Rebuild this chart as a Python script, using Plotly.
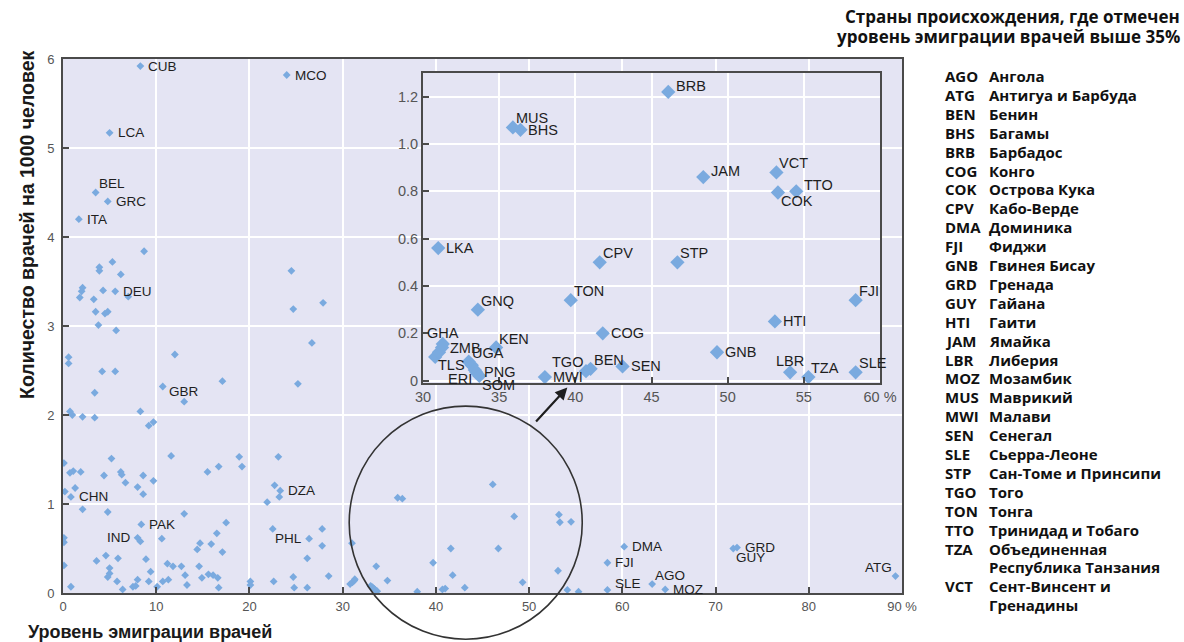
import plotly.graph_objects as go

W, H = 1184, 642

# ---------------- data ----------------
# unlabelled countries of the main chart (emigration %, doctors per 1000)
other_x = [8.7, 3.9, 3.9, 5.3, 6.2, 2.1, 2.0, 1.8, 4.3, 7.0, 3.3, 3.5, 4.5, 4.8, 3.8, 5.7,
           24.5, 24.7, 27.9, 26.7, 25.2, 0.6, 0.6, 12.0, 4.2, 5.6, 10.7, 17.1, 3.4, 8.3,
           0.75, 1.0, 2.1, 3.4, 9.2, 9.7, 0.1, 5.2, 11.6, 0.75, 1.1, 1.9, 4.4, 6.2, 6.3,
           6.7, 8.6, 9.7, 8.0, 8.6, 15.5, 16.7, 18.9, 19.2, 23.1, 22.7, 23.2, 21.9, 0.2,
           1.3, 2.1, 4.8, 13.0, 17.5, 16.5, 22.5, 27.8, 27.8, 26.2, 0.1, 0.1, 8.3, 10.6,
           15.9, 14.7, 14.4, 17.1, 0.1, 3.6, 4.6, 5.9, 8.9, 5.0, 5.0, 4.8, 9.4, 11.2, 11.8,
           12.7, 14.6, 13.1, 14.9, 15.6, 16.1, 16.6, 16.7, 5.8, 8.0, 9.2, 10.7, 11.3, 13.3,
           0.85, 6.4, 7.5, 7.8, 10.1, 20.1, 20.1, 22.6, 24.7, 24.8, 26.2, 28.5]
other_y = [3.84, 3.66, 3.62, 3.72, 3.58, 3.43, 3.39, 3.32, 3.40, 3.33, 3.30, 3.16, 3.14, 3.16, 3.01, 2.95,
           3.62, 3.19, 3.26, 2.81, 2.35, 2.65, 2.58, 2.68, 2.49, 2.49, 2.32, 2.38, 2.25, 2.04,
           2.04, 2.00, 1.98, 1.97, 1.88, 1.92, 1.46, 1.51, 1.54, 1.35, 1.37, 1.36, 1.32, 1.36, 1.33,
           1.24, 1.32, 1.26, 1.19, 1.11, 1.36, 1.42, 1.53, 1.42, 1.53, 1.21, 1.08, 1.02, 1.14,
           1.18, 0.94, 0.91, 0.89, 0.79, 0.67, 0.72, 0.72, 0.53, 0.39, 0.62, 0.57, 0.58, 0.61,
           0.55, 0.56, 0.49, 0.46, 0.31, 0.36, 0.42, 0.39, 0.38, 0.28, 0.22, 0.18, 0.24, 0.33, 0.30,
           0.30, 0.30, 0.20, 0.17, 0.21, 0.20, 0.17, 0.06, 0.13, 0.15, 0.13, 0.13, 0.15, 0.09,
           0.07, 0.04, 0.07, 0.08, 0.07, 0.13, 0.09, 0.13, 0.18, 0.06, 0.06, 0.19]

# labelled countries of the main chart
main_codes = ["CUB", "MCO", "LCA", "BEL", "GRC", "ITA", "DEU", "GBR", "CHN", "IND", "PAK",
              "DZA", "PHL", "DMA", "AGO", "MOZ", "GRD", "GUY", "ATG"]
main_x = [8.3, 24.0, 5.0, 3.5, 4.8, 1.7, 5.6, 13.0, 0.85, 8.0, 8.4,
          23.3, 26.4, 60.2, 63.2, 64.6, 72.3, 71.9, 89.3]
main_y = [5.92, 5.82, 5.17, 4.50, 4.40, 4.20, 3.39, 2.15, 1.08, 0.62, 0.77,
          1.15, 0.61, 0.52, 0.10, 0.04, 0.51, 0.50, 0.19]

# countries shown in the zoomed inset (also plotted in the main chart)
ins_codes = ["BRB", "MUS", "BHS", "JAM", "VCT", "TTO", "COK", "LKA", "CPV", "STP", "TON",
             "GNQ", "FJI", "HTI", "COG", "", "", "ZMB", "GHA", "KEN", "UGA", "TLS", "ERI",
             "PNG", "SOM", "MWI", "TGO", "BEN", "SEN", "GNB", "LBR", "TZA", "SLE"]
ins_x = [46.1, 35.9, 36.4, 48.4, 53.2, 54.5, 53.3, 31.0, 41.6, 46.7, 39.7,
         33.6, 58.4, 53.1, 41.8, 30.8, 31.05, 31.25, 31.3, 34.8, 33.0, 33.2, 33.4,
         33.5, 33.7, 38.0, 40.7, 41.0, 43.1, 49.3, 54.1, 55.3, 58.4]
ins_y = [1.22, 1.07, 1.06, 0.86, 0.88, 0.80, 0.795, 0.56, 0.50, 0.50, 0.34,
         0.30, 0.34, 0.25, 0.20, 0.10, 0.12, 0.14, 0.155, 0.14, 0.08, 0.065, 0.045,
         0.035, 0.02, 0.015, 0.04, 0.05, 0.06, 0.12, 0.035, 0.015, 0.035]

main_x_ticks = [0, 10, 20, 30, 40, 50, 60, 70, 80, 90]
main_x_ticktext = ["0", "10", "20", "30", "40", "50", "60", "70", "80", "90 %"]
main_y_ticks = [0, 1, 2, 3, 4, 5, 6]
ins_x_ticks = [30, 35, 40, 45, 50, 55, 60]
ins_x_ticktext = ["30", "35", "40", "45", "50", "55", "60 %"]
ins_y_ticks = [0, 0.2, 0.4, 0.6, 0.8, 1.0, 1.2]
ins_y_ticktext = ["0", "0.2", "0.4", "0.6", "0.8", "1.0", "1.2"]

legend_codes = ["AGO", "ATG", "BEN", "BHS", "BRB", "COG", "COK", "CPV", "DMA", "FJI", "GNB",
                "GRD", "GUY", "HTI", "JAM", "LBR", "MOZ", "MUS", "MWI", "SEN", "SLE", "STP",
                "TGO", "TON", "TTO", "TZA", "", "VCT", ""]
legend_names = ["Ангола", "Антигуа и Барбуда", "Бенин", "Багамы", "Барбадос", "Конго",
                "Острова Кука", "Кабо-Верде", "Доминика", "Фиджи", "Гвинея Бисау", "Гренада",
                "Гайана", "Гаити", "Ямайка", "Либерия", "Мозамбик", "Маврикий", "Малави",
                "Сенегал", "Сьерра-Леоне", "Сан-Томе и Принсипи", "Того", "Тонга",
                "Тринидад и Тобаго", "Объединенная", "Республика Танзания", "Сент-Винсент и",
                "Гренадины"]

# ---------------- styles ----------------
MAIN_POS = {"CUB": "r", "MCO": "r", "LCA": "r", "BEL": "tr", "GRC": "r", "ITA": "r", "DEU": "r",
            "GBR": "t", "CHN": "r", "IND": "l", "PAK": "r", "DZA": "r", "PHL": "l", "DMA": "r",
            "AGO": "tr", "MOZ": "r", "GRD": "r", "GUY": "br", "ATG": "tl", "FJI": "r", "SLE": "ru"}
INS_POS = {"BRB": "ru", "MUS": "tr", "BHS": "r", "JAM": "ru", "VCT": "tr", "TTO": "ru", "COK": "br",
           "LKA": "r", "CPV": "tr", "STP": "tr", "TON": "tr", "GNQ": "tr", "FJI": "tr", "HTI": "r",
           "COG": "r", "ZMB": "r", "GHA": "t", "KEN": "tr", "UGA": "tr", "TLS": "l", "ERI": "bl",
           "PNG": "r", "SOM": "br", "MWI": "r", "TGO": "tl", "BEN": "tr", "SEN": "r", "GNB": "r",
           "LBR": "t", "TZA": "tr", "SLE": "tr"}
POS = {"r": ("left", "middle", 7, 0), "ru": ("left", "middle", 7, 6),
       "l": ("right", "middle", -6, 0), "tr": ("left", "bottom", 2, 0),
       "tl": ("right", "bottom", -2, 0), "t": ("center", "bottom", 0, 2),
       "br": ("left", "top", 2, 0), "bl": ("right", "top", -2, 0)}

PT = "#7aaadf"
BG_MAIN = "#e4e4f3"
BG_INS = "#ebebf0"
AXC = "#4a4a4a"
LBL_FONT = "Liberation Sans"

MAIN_DOM_X = [63 / W, 902 / W]
MAIN_DOM_Y = [1 - 593 / H, 1 - 59 / H]
INS_DOM_X = [423 / W, 880 / W]
INS_DOM_Y = [1 - 383 / H, 1 - 73 / H]
MAIN_RX = [0, 90]
MAIN_RY = [0, 6]

fig = go.Figure()

all_x = other_x + main_x + ins_x
all_y = other_y + main_y + ins_y
fig.add_trace(go.Scatter(x=all_x, y=all_y, mode="markers",
                         marker=dict(symbol="diamond", size=6, color=PT, line=dict(width=0)),
                         xaxis="x", yaxis="y", hoverinfo="skip", showlegend=False))
fig.add_trace(go.Scatter(x=ins_x, y=ins_y, mode="markers",
                         marker=dict(symbol="diamond", size=11, color=PT, line=dict(width=0)),
                         xaxis="x2", yaxis="y2", hoverinfo="skip", showlegend=False,
                         cliponaxis=False))

annotations = []


def add_label(code, x, y, pos, xref, yref, size):
    xa, ya, dx, dy = POS[pos]
    annotations.append(dict(x=x, y=y, xref=xref, yref=yref, text=code, showarrow=False,
                            xanchor=xa, yanchor=ya, xshift=dx, yshift=dy, borderpad=0,
                            font=dict(family=LBL_FONT, size=size, color="#1e1e1e")))


for c, x, y in zip(main_codes, main_x, main_y):
    add_label(c, x, y, MAIN_POS[c], "x", "y", 13.5)
for c, x, y in zip(ins_codes, ins_x, ins_y):
    if c in ("FJI", "SLE"):
        add_label(c, x, y, MAIN_POS[c], "x", "y", 13.5)
for c, x, y in zip(ins_codes, ins_x, ins_y):
    if c:
        add_label(c, x, y, INS_POS[c], "x2", "y2", 14.5)

# axis titles
annotations.append(dict(x=27 / W, y=1 - 225 / H, xref="paper", yref="paper", textangle=-90,
                        text="<b>Количество врачей на 1000 человек</b>", showarrow=False,
                        xanchor="center", yanchor="middle",
                        font=dict(family="Liberation Sans", size=19.5, color="#1a1a1a")))
annotations.append(dict(x=26 / W, y=1 - 632 / H, xref="paper", yref="paper",
                        text="<b>Уровень эмиграции врачей</b>", showarrow=False,
                        xanchor="left", yanchor="middle",
                        font=dict(family="Liberation Sans", size=18, color="#1a1a1a")))

# right-hand key
RF_T = dict(family="Open Sans", size=17, color="#111111", weight="bold")
RF = dict(family="Open Sans", size=15, color="#111111", weight="bold")
annotations.append(dict(x=1182 / W, y=1 - 17 / H, xref="paper", yref="paper",
                        text="Страны происхождения, где отмечен", showarrow=False,
                        xanchor="right", yanchor="middle", font=RF_T))
annotations.append(dict(x=1182 / W, y=1 - 37 / H, xref="paper", yref="paper",
                        text="уровень эмиграции врачей выше 35%", showarrow=False,
                        xanchor="right", yanchor="middle", font=RF_T))
for i, (c, n) in enumerate(zip(legend_codes, legend_names)):
    yy = 1 - (76 + i * 18.9) / H
    if c:
        annotations.append(dict(x=943 / W, y=yy, xref="paper", yref="paper", text=c,
                                showarrow=False, xanchor="left", yanchor="middle", font=RF))
    annotations.append(dict(x=987 / W, y=yy, xref="paper", yref="paper", text=n,
                            showarrow=False, xanchor="left", yanchor="middle", font=RF))

# arrow from the circle to the inset
annotations.append(dict(x=54.1, y=2.31, xref="x", yref="y", ax=50.6, ay=1.91, axref="x", ayref="y",
                        text="", showarrow=True, arrowhead=2, arrowsize=1.1, arrowwidth=2.2,
                        arrowcolor="#1e1e1e"))


def to_paper_x(v):
    return MAIN_DOM_X[0] + (v - MAIN_RX[0]) / (MAIN_RX[1] - MAIN_RX[0]) * (MAIN_DOM_X[1] - MAIN_DOM_X[0])


def to_paper_y(v):
    return MAIN_DOM_Y[0] + (v - MAIN_RY[0]) / (MAIN_RY[1] - MAIN_RY[0]) * (MAIN_DOM_Y[1] - MAIN_DOM_Y[0])


circ_cx, circ_cy, circ_rx, circ_ry = 43.2, 0.79, 12.5, 1.31
shapes = [
    dict(type="rect", xref="x2 domain", yref="y2 domain", x0=0, x1=1, y0=0, y1=1,
         fillcolor=BG_INS, line=dict(width=0), layer="below"),
    dict(type="circle", xref="paper", yref="paper",
         x0=to_paper_x(circ_cx - circ_rx), x1=to_paper_x(circ_cx + circ_rx),
         y0=to_paper_y(circ_cy - circ_ry), y1=to_paper_y(circ_cy + circ_ry),
         line=dict(color="#333333", width=1.6), fillcolor="rgba(0,0,0,0)", layer="above"),
]

tickfont_main = dict(family="Liberation Sans", size=13, color="#555555")
tickfont_ins = dict(family="Liberation Sans", size=14.5, color="#555555")
common = dict(showline=True, linecolor=AXC, linewidth=2, mirror=True, ticks="inside",
              ticklen=6, tickwidth=1.5, tickcolor=AXC, gridcolor="white", gridwidth=1.5,
              zeroline=False, showspikes=False, automargin=False)

fig.update_layout(
    width=W, height=H, margin=dict(l=0, r=0, t=0, b=0, autoexpand=False),
    paper_bgcolor="white", plot_bgcolor=BG_MAIN, showlegend=False,
    xaxis=dict(domain=MAIN_DOM_X, range=MAIN_RX, tickvals=main_x_ticks, ticktext=main_x_ticktext,
               tickfont=tickfont_main, anchor="y", **common),
    yaxis=dict(domain=MAIN_DOM_Y, range=MAIN_RY, tickvals=main_y_ticks,
               tickfont=tickfont_main, anchor="x", ticklabelstandoff=4, **common),
    xaxis2=dict(domain=INS_DOM_X, range=[30, 60], tickvals=ins_x_ticks, ticktext=ins_x_ticktext,
                tickfont=tickfont_ins, anchor="y2", **common),
    yaxis2=dict(domain=INS_DOM_Y, range=[-0.01, 1.30], tickvals=ins_y_ticks, ticktext=ins_y_ticktext,
                tickfont=tickfont_ins, anchor="x2", **common),
    annotations=annotations, shapes=shapes,
)

fig.write_html("out.html", config={"displayModeBar": False},
               post_script="document.body.style.margin='0';document.body.style.overflow='hidden';")
